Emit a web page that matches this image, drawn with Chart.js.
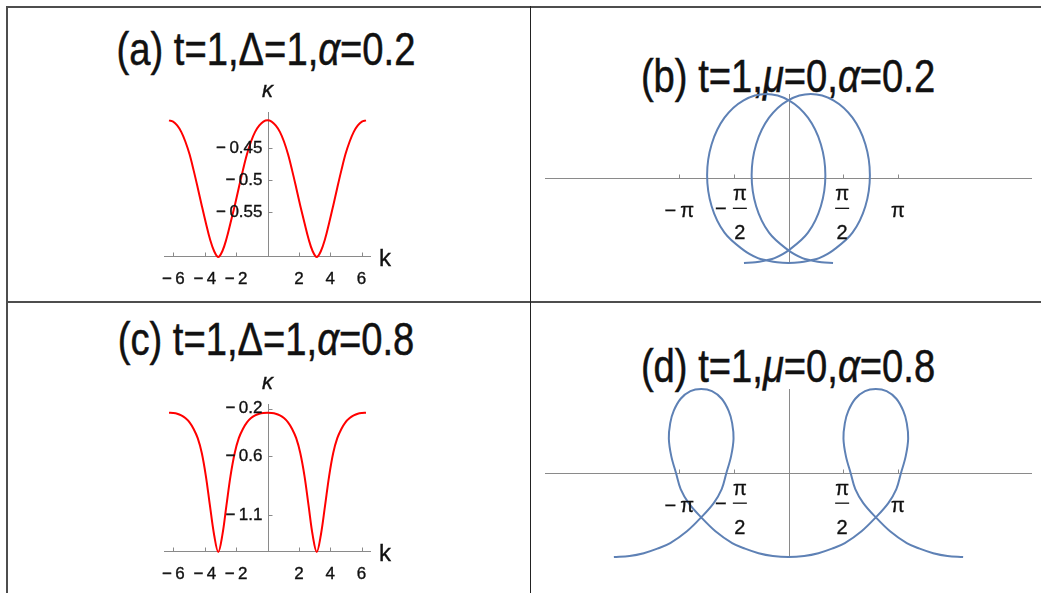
<!DOCTYPE html>
<html lang="en">
<head>
<meta charset="utf-8">
<title>Kitaev chain: κ(k) and winding curves</title>
<script src="https://cdn.jsdelivr.net/npm/chart.js@4.4.1/dist/chart.umd.min.js"></script>
<style>
  html, body { margin: 0; padding: 0; background: #fff; }
  body { position: relative; width: 1041px; height: 593px; overflow: hidden; }
  .rule { position: absolute; background: #4d4d4d; }
  .rule.thin { background: #222; }
  .title {
    position: absolute; white-space: nowrap; line-height: 1;
    font: 46px "Liberation Sans", Arial, sans-serif; color: #111;
    -webkit-text-stroke: 0.5px #111;
    transform: translate(-50%, -50%) scaleX(0.83);
  }
  canvas { position: absolute; }
</style>
</head>
<body>
<div class="rule" style="left:6px;top:6px;width:1035px;height:2px"></div>
<div class="rule" style="left:6px;top:6px;width:2px;height:587px"></div>
<div class="rule" style="left:6px;top:301px;width:1035px;height:2px"></div>
<div class="rule thin" style="left:530px;top:6px;width:1px;height:587px"></div>

<div class="title" style="left:266px;top:49px">(a) t=1,Δ=1,<i>α</i>=0.2</div>
<div class="title" style="left:788px;top:76px">(b) t=1,<i>μ</i>=0,<i>α</i>=0.2</div>
<div class="title" style="left:266px;top:339px">(c) t=1,Δ=1,<i>α</i>=0.8</div>
<div class="title" style="left:788px;top:366px">(d) t=1,<i>μ</i>=0,<i>α</i>=0.8</div>

<canvas id="chA" width="307" height="245" style="left:114px;top:62px"></canvas>
<canvas id="chB" width="587" height="269" style="left:495px;top:44px"></canvas>
<canvas id="chC" width="307" height="248" style="left:114px;top:354px"></canvas>
<canvas id="chD" width="587" height="268" style="left:495px;top:339px"></canvas>

<script>
// k samples, one every π/12 over [-2π, 2π]
const kGrid = [-6.28, -6.02, -5.76, -5.50, -5.24, -4.97, -4.71, -4.45, -4.19, -3.93, -3.67, -3.40,
  -3.14, -2.88, -2.62, -2.36, -2.09, -1.83, -1.57, -1.31, -1.05, -0.79, -0.52, -0.26,
  0, 0.26, 0.52, 0.79, 1.05, 1.31, 1.57, 1.83, 2.09, 2.36, 2.62, 2.88,
  3.14, 3.40, 3.67, 3.93, 4.19, 4.45, 4.71, 4.97, 5.24, 5.50, 5.76, 6.02, 6.28];

// κ(k) for t=1, Δ=1, α=0.2
const kappa02 = [-0.407, -0.409, -0.415, -0.425, -0.440, -0.460, -0.485, -0.512, -0.540, -0.567, -0.592, -0.611,
  -0.620, -0.611, -0.592, -0.567, -0.540, -0.512, -0.485, -0.460, -0.440, -0.425, -0.415, -0.409,
  -0.407, -0.409, -0.415, -0.425, -0.440, -0.460, -0.485, -0.512, -0.540, -0.567, -0.592, -0.611,
  -0.620, -0.611, -0.592, -0.567, -0.540, -0.512, -0.485, -0.460, -0.440, -0.425, -0.415, -0.409, -0.407];

// κ(k) for t=1, Δ=1, α=0.8
const kappa08 = [-0.235, -0.237, -0.243, -0.257, -0.280, -0.316, -0.372, -0.450, -0.575, -0.770, -1.020, -1.270,
  -1.412, -1.270, -1.020, -0.770, -0.575, -0.450, -0.372, -0.316, -0.280, -0.257, -0.243, -0.237,
  -0.235, -0.237, -0.243, -0.257, -0.280, -0.316, -0.372, -0.450, -0.575, -0.770, -1.020, -1.270,
  -1.412, -1.270, -1.020, -0.770, -0.575, -0.450, -0.372, -0.316, -0.280, -0.257, -0.243, -0.237, -0.235];

const kTicks = [-6, -4, -2, 2, 4, 6];
const kTickLabels = ['−6', '−4', '−2', '2', '4', '6'];
const kappaTicks02 = [-0.45, -0.5, -0.55];
const kappaTickLabels02 = ['−0.45', '−0.5', '−0.55'];
const kappaTicks08 = [-0.2, -0.6, -1.1];
const kappaTickLabels08 = ['−0.2', '−0.6', '−1.1'];

// winding curve, t=1, μ=0, α=0.2 (left end -> right end)
const loopX02 = [-1.28, -0.95, -0.64, -0.40, 0.01, 0.56, 0.93, 1.06, 0.93, 0.56, 0.01, -0.64,
  -1.29, -1.84, -2.21, -2.34, -2.21, -1.84, -1.29, -0.88, -0.64, -0.33, 0,
  0.33, 0.64, 0.88, 1.29, 1.84, 2.21, 2.34, 2.21, 1.84, 1.29, 0.64,
  -0.01, -0.56, -0.93, -1.06, -0.93, -0.56, -0.01, 0.40, 0.64, 0.95, 1.28];
const loopY02 = [-2.42, -2.40, -2.34, -2.28, -2.05, -1.55, -0.79, 0.10, 0.99, 1.75, 2.25, 2.43,
  2.25, 1.75, 0.99, 0.10, -0.79, -1.55, -2.05, -2.28, -2.34, -2.40, -2.42,
  -2.40, -2.34, -2.28, -2.05, -1.55, -0.79, 0.10, 0.99, 1.75, 2.25, 2.43,
  2.25, 1.75, 0.99, 0.10, -0.79, -1.55, -2.05, -2.28, -2.34, -2.40, -2.42];

// winding curve, t=1, μ=0, α=0.8
const loopX08 = [-5.02, -4.57, -4.16, -3.77, -3.40, -2.92, -2.51, -2.15, -1.92, -1.79, -1.65, -1.58,
  -1.62, -1.72, -1.92, -2.20, -2.51, -2.82, -3.10, -3.30, -3.40, -3.44, -3.37, -3.23,
  -3.10, -2.87, -2.51, -2.10, -1.62, -1.25, -0.86, -0.45, 0,
  0.45, 0.86, 1.25, 1.62, 2.10, 2.51, 2.87, 3.10, 3.23, 3.37, 3.44, 3.40,
  3.30, 3.10, 2.82, 2.51, 2.20, 1.92, 1.72, 1.62, 1.58, 1.65, 1.79, 1.92,
  2.15, 2.51, 2.92, 3.40, 3.77, 4.16, 4.57, 5.02];
const loopY08 = [-2.40, -2.37, -2.29, -2.16, -2.00, -1.66, -1.26, -0.85, -0.45, 0, 0.50, 1.00,
  1.45, 1.80, 2.15, 2.37, 2.43, 2.37, 2.15, 1.80, 1.45, 1.00, 0.50, 0,
  -0.45, -0.85, -1.26, -1.66, -2.00, -2.16, -2.29, -2.37, -2.40,
  -2.37, -2.29, -2.16, -2.00, -1.66, -1.26, -0.85, -0.45, 0, 0.50, 1.00, 1.45,
  1.80, 2.15, 2.37, 2.43, 2.37, 2.15, 1.80, 1.45, 1.00, 0.50, 0, -0.45,
  -0.85, -1.26, -1.66, -2.00, -2.16, -2.29, -2.37, -2.40];

const piTicks = [-3.1416, -1.5708, 1.5708, 3.1416];
const piTickLabels = ['−π', '−π/2', 'π/2', 'π'];

const AXIS = '#8a8a8a';
const INK = '#111';
const SANS = '"Liberation Sans", Arial, sans-serif';

const spaced = (s) => s.replace('−', '−\u2009');

// filled text with a hairline outline, a touch heavier than plain fillText
function text(ctx, s, x, y) {
  ctx.fillText(s, x, y);
  ctx.strokeText(s, x, y);
}

// stacked π over 2, with a leading minus when negative
function drawFraction(ctx, px, oy, neg) {
  const cx = neg ? px + 6 : px - 1;
  if (neg) text(ctx, '−', px - 13, oy + 31);
  text(ctx, 'π', cx, oy + 16);
  ctx.fillRect(cx - 7, oy + 29, 14, 1.3);
  text(ctx, '2', cx, oy + 55);
}

// Mathematica-style axes crossing at `origin`, ticks pointing inward
const mmaAxes = {
  id: 'mmaAxes',
  beforeDatasetsDraw(chart, _args, o) {
    const { ctx, chartArea: ca, scales: { x, y } } = chart;
    const ox = Math.round(x.getPixelForValue(o.origin[0])) + 0.5;
    const oy = Math.round(y.getPixelForValue(o.origin[1])) - 0.5;
    ctx.save();
    ctx.strokeStyle = AXIS;
    ctx.lineWidth = 1;
    ctx.beginPath();
    ctx.moveTo(ca.left, oy); ctx.lineTo(ca.right, oy);
    ctx.moveTo(ox, ca.top); ctx.lineTo(ox, ca.bottom);
    o.xTicks.forEach((v) => {
      const px = Math.round(x.getPixelForValue(v)) + 0.5;
      ctx.moveTo(px, oy); ctx.lineTo(px, oy - 4);
    });
    (o.yTicks || []).forEach((v) => {
      const py = Math.round(y.getPixelForValue(v)) + 0.5;
      ctx.moveTo(ox, py); ctx.lineTo(ox + 4, py);
    });
    ctx.stroke();
    ctx.restore();
  },
  afterDatasetsDraw(chart, _args, o) {
    const { ctx, chartArea: ca, scales: { x, y } } = chart;
    const ox = x.getPixelForValue(o.origin[0]);
    const oy = y.getPixelForValue(o.origin[1]);
    ctx.save();
    ctx.fillStyle = INK;
    ctx.strokeStyle = INK;
    ctx.lineWidth = 0.35;
    ctx.textBaseline = 'middle';
    ctx.textAlign = 'center';
    ctx.font = `${o.tickSize}px ${SANS}`;
    o.xTicks.forEach((v, i) => {
      const px = x.getPixelForValue(v);
      const lbl = o.xLabels[i];
      if (lbl.includes('/')) drawFraction(ctx, px, oy, lbl.startsWith('−'));
      else text(ctx, spaced(lbl), px, oy + o.labelGap);
    });
    if (o.yTicks) {
      ctx.textAlign = 'right';
      o.yTicks.forEach((v, i) => text(ctx, spaced(o.yLabels[i]), ox - 5, y.getPixelForValue(v)));
    }
    if (o.names) {
      ctx.textAlign = 'center';
      ctx.font = `italic 22px ${SANS}`;
      text(ctx, o.names[1], ox, ca.top - 21);
      ctx.font = `24px ${SANS}`;
      text(ctx, o.names[0], ca.right + 14, oy + 2);
    }
    ctx.restore();
  },
};

function build(id, xs, ys, style, axes) {
  const pts = xs.map((v, i) => ({ x: v, y: ys[i] }));
  return new Chart(document.getElementById(id), {
    type: 'scatter',
    data: { datasets: [Object.assign({ data: pts, showLine: true, pointRadius: 0, borderWidth: 2, clip: false }, style)] },
    options: {
      responsive: false,
      animation: false,
      events: [],
      layout: { padding: 50 },
      elements: { line: { capBezierPoints: false } },
      scales: {
        x: { type: 'linear', display: false, min: axes.xRange[0], max: axes.xRange[1] },
        y: { type: 'linear', display: false, min: axes.yRange[0], max: axes.yRange[1] },
      },
      plugins: { legend: { display: false }, tooltip: { enabled: false }, mmaAxes: axes },
    },
    plugins: [mmaAxes],
  });
}

const red = { borderColor: '#ff0000', tension: 0.36 };
const blue = { borderColor: '#5e81b5', tension: 0.36 };

build('chA', kGrid, kappa02, red, {
  xRange: [-6.6, 6.6], yRange: [-0.62, -0.394], origin: [0, -0.62],
  xTicks: kTicks, xLabels: kTickLabels, yTicks: kappaTicks02, yLabels: kappaTickLabels02,
  tickSize: 17, labelGap: 22, names: ['k', 'κ'],
});
build('chC', kGrid, kappa08, red, {
  xRange: [-6.6, 6.6], yRange: [-1.412, -0.161], origin: [0, -1.412],
  xTicks: kTicks, xLabels: kTickLabels, yTicks: kappaTicks08, yLabels: kappaTickLabels08,
  tickSize: 17, labelGap: 22, names: ['k', 'κ'],
});
build('chB', loopX02, loopY02, blue, {
  xRange: [-7, 7], yRange: [-2.42, 2.43], origin: [0, 0],
  xTicks: piTicks, xLabels: piTickLabels, tickSize: 20, labelGap: 33,
});
build('chD', loopX08, loopY08, blue, {
  xRange: [-7, 7], yRange: [-2.40, 2.43], origin: [0, 0],
  xTicks: piTicks, xLabels: piTickLabels, tickSize: 20, labelGap: 33,
});
</script>
</body>
</html>
